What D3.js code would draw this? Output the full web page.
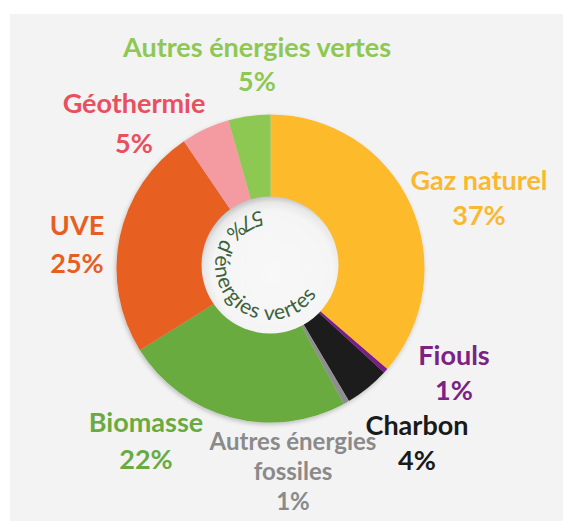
<!DOCTYPE html>
<html>
<head>
<meta charset="utf-8">
<script src="https://cdn.jsdelivr.net/npm/d3@7"></script>
<style>
  html, body { margin: 0; padding: 0; background: #ffffff; }
  svg { display: block; }
  .lbl { font-family: Lato, "Open Sans", sans-serif; font-weight: 700; }
</style>
</head>
<body>
<div id="chart"></div>
<script>
// energy mix shares (slice sizes) and printed labels
var categories = ["Gaz naturel", "Fiouls", "Charbon", "Autres énergies fossiles",
                  "Biomasse", "UVE", "Géothermie", "Autres énergies vertes"];
var shares = [36.3, 0.5, 4.7, 0.6, 24.0, 24.4, 5.1, 4.4];
var pctLabels = ["37%", "1%", "4%", "1%", "22%", "25%", "5%", "5%"];
var centerText = "57% d'énergies vertes";

var sliceColors = ["#fdba2b", "#7a1f8c", "#1f1f1f", "#8e8e8e",
                   "#6aab3f", "#e85e22", "#f39ba1", "#8dc853"];
var textColors = ["#f9b92f", "#7b2283", "#1a1a1a", "#8a8a8a",
                  "#6aab3f", "#e85e22", "#e8505f", "#8dc853"];

var width = 563;
var height = 521;

var cx = 270.5, cy = 268.5, outerR = 154;
var holeX = 270, holeY = 265, holeR = 68.5;

// label placement: centre x, first baseline, line gap
var labelPos = [
    {x: 479, y: 190, gap: 35},
    {x: 454, y: 365, gap: 35},
    {x: 417, y: 435, gap: 35},
    {x: 293, y: 450, gap: 30},
    {x: 146, y: 432, gap: 37},
    {x: 77,  y: 235, gap: 38},
    {x: 134, y: 113, gap: 40},
    {x: 257, y: 57,  gap: 34}
];

var svg = d3.select("#chart")
    .append("svg")
    .attr("width", width)
    .attr("height", height);

var defs = svg.append("defs");

var shadow = defs.append("filter")
    .attr("id", "shadow")
    .attr("x", "-10%").attr("y", "-10%")
    .attr("width", "120%").attr("height", "120%");
shadow.append("feDropShadow")
    .attr("dx", -1).attr("dy", 2)
    .attr("stdDeviation", 2)
    .attr("flood-color", "#000")
    .attr("flood-opacity", 0.22);

var holeGrad = defs.append("radialGradient")
    .attr("id", "holeGrad")
    .attr("cx", "52%").attr("cy", "55%").attr("r", "55%");
holeGrad.append("stop").attr("offset", "0%").attr("stop-color", "#f8f8f9");
holeGrad.append("stop").attr("offset", "80%").attr("stop-color", "#f5f5f6");
holeGrad.append("stop").attr("offset", "92%").attr("stop-color", "#e8e8e9");
holeGrad.append("stop").attr("offset", "100%").attr("stop-color", "#c4c4c6");

// gray panel
svg.append("rect")
    .attr("x", 10).attr("y", 14)
    .attr("width", width - 10).attr("height", height - 14)
    .attr("fill", "#f3f3f4");

var pie = d3.pie()
    .sort(null)
    .value(function(d) { return d; });

var arc = d3.arc()
    .innerRadius(0)
    .outerRadius(outerR);

var slices = svg.append("g")
    .attr("class", "slices")
    .attr("transform", "translate(" + cx + "," + cy + ")")
    .attr("filter", "url(#shadow)");

slices.selectAll("path")
    .data(pie(shares))
    .enter()
    .append("path")
    .attr("d", arc)
    .attr("fill", function(d, i) { return sliceColors[i]; });

// hole
svg.append("circle")
    .attr("cx", holeX).attr("cy", holeY)
    .attr("r", holeR)
    .attr("fill", "url(#holeGrad)");

// curved centre text, running counterclockwise round the hole
var pathR = 55;
var a0 = -9 * Math.PI / 180;
var a1 = 123 * Math.PI / 180;
function pt(a) {
    return [holeX + pathR * Math.sin(a), holeY - pathR * Math.cos(a)];
}
var p0 = pt(a0), p1 = pt(a1);
defs.append("path")
    .attr("id", "ringPath")
    .attr("d", "M" + p0[0] + "," + p0[1] +
        " A" + pathR + "," + pathR + " 0 1 0 " + p1[0] + "," + p1[1]);

var sweep = (2 * Math.PI + a0 - a1);
svg.append("text")
    .attr("font-family", "Lato, 'Open Sans', sans-serif")
    .attr("font-size", 21)
    .attr("fill", "#3c6239")
    .append("textPath")
    .attr("href", "#ringPath")
    .attr("textLength", sweep * pathR)
    .attr("lengthAdjust", "spacing")
    .text(centerText);

// labels
var labels = svg.append("g").attr("class", "labels");

categories.forEach(function(name, i) {
    var pos = labelPos[i];
    var lines = name === "Autres énergies fossiles"
        ? ["Autres énergies", "fossiles", pctLabels[i]]
        : [name, pctLabels[i]];
    var t = labels.append("text")
        .attr("class", "lbl")
        .attr("text-anchor", "middle")
        .attr("font-size", i === 3 ? 24 : 27)
        .attr("fill", textColors[i])
        .attr("transform", "translate(" + pos.x + "," + pos.y + ")");
    lines.forEach(function(line, j) {
        t.append("tspan")
            .attr("x", 0)
            .attr("y", j * pos.gap)
            .text(line);
    });
});
</script>
</body>
</html>
